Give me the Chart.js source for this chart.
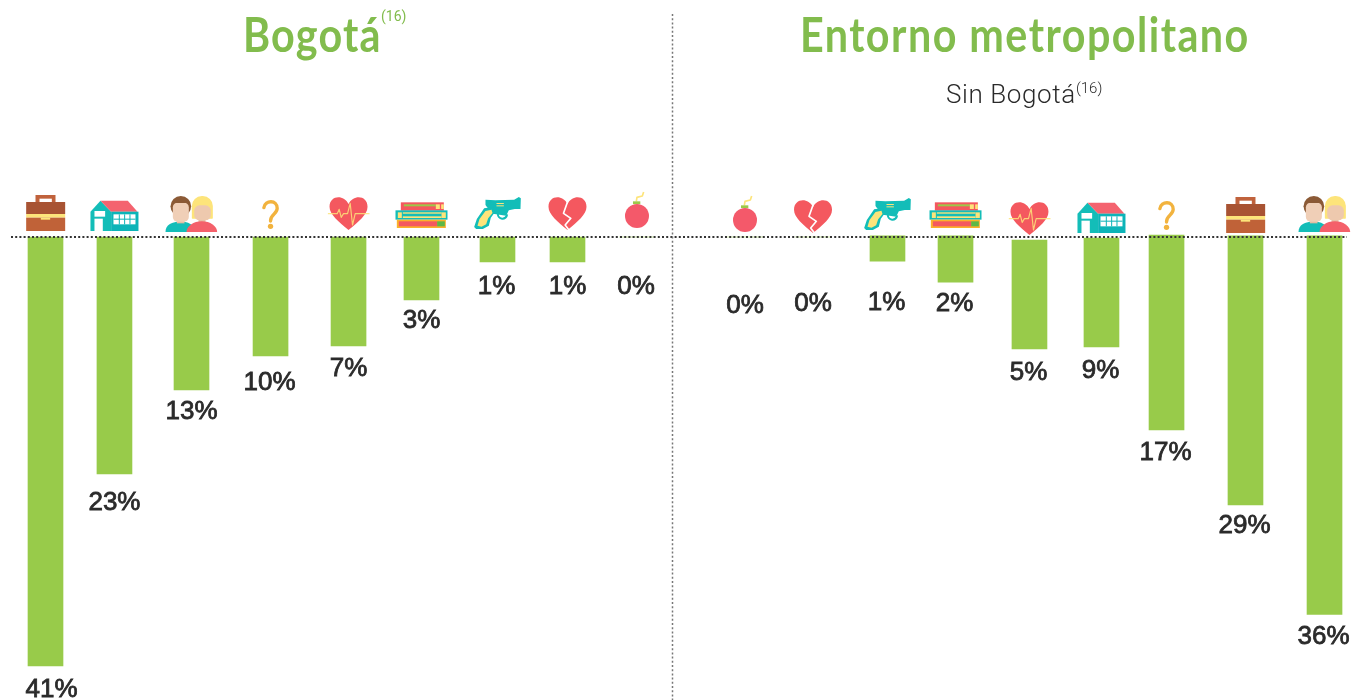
<!DOCTYPE html>
<html lang="es">
<head>
<meta charset="utf-8">
<title>Bogotá y entorno metropolitano</title>
<script src="https://cdn.jsdelivr.net/npm/chart.js@4"></script>
<style>
  html, body { margin: 0; padding: 0; background: #fff; }
  #page { position: relative; width: 1362px; height: 700px; overflow: hidden; }
  #page canvas { position: absolute; left: 0; top: 0; }
  .title { position: absolute; top: 10px; white-space: nowrap; color: #82bc4d; font-family: Lato, sans-serif; font-weight: 700; font-size: 48px; line-height: 1; transform-origin: left top; }
  #titleLeft { left: 243px; letter-spacing: 1.4px; transform: scaleX(0.86); }
  #titleRight { left: 800px; letter-spacing: 1.7px; transform: scaleX(0.86); }
  .note { position: absolute; white-space: nowrap; font-family: Roboto, sans-serif; font-weight: 300; line-height: 1; }
  #noteLeft { left: 381px; top: 9px; font-size: 14px; font-weight: 400; color: #82bc4d; }
  #noteRight { left: 1076px; top: 81px; font-size: 15px; color: #2a2a2a; }
  #subtitle { left: 946px; top: 81px; font-size: 26px; letter-spacing: 0.6px; color: #2a2a2a; }
</style>
</head>
<body>
<div id="page">
  <canvas id="chart" width="1362" height="700"></canvas>
  <div class="title" id="titleLeft">Bogotá</div>
  <div class="note" id="noteLeft">(16)</div>
  <div class="title" id="titleRight">Entorno metropolitano</div>
  <div class="note" id="subtitle">Sin Bogotá</div>
  <div class="note" id="noteRight">(16)</div>
</div>
<script>
const bogotaCategories = ["briefcase", "building", "people", "question", "heart", "books", "gun", "brokenHeart", "bomb"];
const bogotaLabels = ["41%", "23%", "13%", "10%", "7%", "3%", "1%", "1%", "0%"];
// start and end of each bar as drawn in the picture, the art is not to scale
const bogotaStart = [0, 0, 0, 0, 0, 0, 0, 0, 0];
const bogotaEnd = [40.86, 22.57, 14.57, 11.33, 10.38, 6, 2.38, 2.38, 0];

const entornoCategories = ["bomb", "brokenHeart", "gun", "books", "heart", "building", "question", "briefcase", "people"];
const entornoLabels = ["0%", "0%", "1%", "2%", "5%", "9%", "17%", "29%", "36%"];
const entornoStart = [0, 0, -0.1, -0.1, 0.29, 0.1, -0.19, -0.1, -0.1];
const entornoEnd = [0, 0, 2.29, 4.29, 10.67, 10.48, 18.38, 25.52, 35.95];

// layout, the slots are not evenly spaced in the original
const leftSlots = [0, 0.932, 1.973, 3.041, 4.095, 5.081, 6.108, 7.054, 7.993];
const rightSlots = [0, 0.939, 1.967, 2.906, 3.927, 4.921, 5.819, 6.909, 8];
const leftGaps = [24, 29, 22, 27, 23, 21, 25, 25, 50];
const rightGaps = [69, 67, 42, 22, 24, 24, 23, 21, 22];
const leftNudge = [6, 0, 0, -1, 0, 0, -1, 0, -1];
const rightNudge = [0, 0, -1, -1, -1, -1, -1, -1, -1];
const leftIconBase = [231, 231, 232, 229, 230, 228, 229, 230, 228];
const rightIconBase = [232, 233, 230, 228, 235, 233, 230, 233, 232];

const RED = "#f4585f";
const TEAL = "#13bdb8";
const CREAM = "#fde47a";

function box(ctx, color, x, y, w, h) {
  ctx.fillStyle = color;
  ctx.fillRect(x, y, w, h);
}

function poly(ctx, color, points) {
  ctx.fillStyle = color;
  ctx.beginPath();
  points.forEach(([x, y], i) => (i ? ctx.lineTo(x, y) : ctx.moveTo(x, y)));
  ctx.closePath();
  ctx.fill();
}

function heartPath(ctx) {
  ctx.beginPath();
  ctx.moveTo(0, 0);
  ctx.bezierCurveTo(-30, -26, -57, -46, -57, -70);
  ctx.bezierCurveTo(-57, -105, -14, -108, 0, -78);
  ctx.bezierCurveTo(14, -108, 57, -105, 57, -70);
  ctx.bezierCurveTo(57, -46, 30, -26, 0, 0);
  ctx.closePath();
  ctx.fillStyle = RED;
  ctx.fill();
}

function line(ctx, color, width, points) {
  ctx.strokeStyle = color;
  ctx.lineWidth = width;
  ctx.lineJoin = "round";
  ctx.beginPath();
  points.forEach(([x, y], i) => (i ? ctx.lineTo(x, y) : ctx.moveTo(x, y)));
  ctx.stroke();
}

// icons are drawn in 1/3 px units around the bar centre and their bottom edge
const icons = {
  briefcase(ctx) {
    box(ctx, "#c0623c", -30, -108, 60, 24);
    box(ctx, "#fff", -18, -97, 37, 11);
    box(ctx, "#a85333", -58, -87, 117, 36);
    box(ctx, CREAM, -58, -51, 117, 11);
    box(ctx, "#c06238", -58, -40, 117, 40);
    box(ctx, CREAM, -14, -40, 28, 6);
  },
  building(ctx) {
    poly(ctx, TEAL, [[-72, -58], [-42, -91], [-10, -58], [-10, 0], [-72, 0]]);
    poly(ctx, "#f4636f", [[-42, -91], [40, -91], [69, -58], [-10, -58]]);
    box(ctx, "#0cb4b8", -10, -58, 82, 58);
    box(ctx, "#fff", -60, -60, 32, 17);
    box(ctx, "#fff", -60, -37, 25, 37);
    box(ctx, "#fff", -3, -50, 66, 30);
    box(ctx, "#0cb4b8", -3, -37, 66, 3);
    [13, 29, 45].forEach((x) => box(ctx, "#0cb4b8", x, -50, 3, 30));
  },
  people(ctx) {
    // man
    ctx.fillStyle = TEAL;
    ctx.beginPath();
    ctx.moveTo(-78, 0);
    ctx.bezierCurveTo(-78, -22, -60, -28, -44, -31);
    ctx.lineTo(-22, -31);
    ctx.bezierCurveTo(-6, -28, 10, -20, 10, 0);
    ctx.closePath();
    ctx.fill();
    box(ctx, "#e4bda2", -44, -40, 23, 14);
    ctx.fillStyle = "#8b5a36";
    ctx.beginPath();
    ctx.arc(-32, -77, 31, 0, Math.PI * 2);
    ctx.fill();
    ctx.fillStyle = "#f0cfb7";
    ctx.beginPath();
    ctx.roundRect(-56, -88, 48, 57, 14);
    ctx.fill();
    box(ctx, "#8b5a36", -56, -92, 48, 5);
    // woman
    ctx.fillStyle = CREAM;
    ctx.beginPath();
    ctx.roundRect(1, -108, 63, 68, [30, 30, 2, 2]);
    ctx.fill();
    box(ctx, "#e4bda2", 21, -40, 21, 12);
    ctx.fillStyle = "#eec9ae";
    ctx.beginPath();
    ctx.roundRect(8, -80, 50, 45, 16);
    ctx.fill();
    ctx.fillStyle = "#f4606a";
    ctx.beginPath();
    ctx.ellipse(31, 0, 46, 32, 0, Math.PI, 0);
    ctx.fill();
  },
  question(ctx) {
    ctx.strokeStyle = "#f2b33e";
    ctx.lineWidth = 10;
    ctx.lineCap = "round";
    ctx.beginPath();
    ctx.moveTo(-20, -64);
    ctx.bezierCurveTo(-16, -88, 20, -88, 20, -62);
    ctx.bezierCurveTo(20, -44, 0, -46, 0, -24);
    ctx.stroke();
    ctx.lineCap = "butt";
    ctx.fillStyle = "#f2b33e";
    ctx.beginPath();
    ctx.arc(0, -8, 8, 0, Math.PI * 2);
    ctx.fill();
  },
  heart(ctx) {
    heartPath(ctx);
    ctx.globalAlpha = 0.85;
    line(ctx, CREAM, 3.5, [[-62, -49], [-34, -49], [-28, -62], [-22, -38], [-15, -49], [-3, -49], [5, -80], [12, -15], [20, -49], [63, -49]]);
    ctx.globalAlpha = 1;
  },
  books(ctx) {
    box(ctx, RED, -62, -77, 129, 25);
    box(ctx, "#9bc94a", -53, -71, 96, 6);
    box(ctx, CREAM, 43, -71, 12, 14);
    box(ctx, CREAM, 59, -71, 8, 14);
    box(ctx, TEAL, -78, -53, 156, 28);
    box(ctx, CREAM, -71, -47, 12, 17);
    box(ctx, CREAM, 60, -47, 13, 17);
    box(ctx, CREAM, -56, -47, 116, 4);
    box(ctx, CREAM, -56, -35, 116, 5);
    box(ctx, "#fbb12b", -74, -25, 147, 25);
    box(ctx, RED, -68, -20, 115, 15);
    box(ctx, "#5cb848", 47, -20, 23, 15);
  },
  gun(ctx) {
    poly(ctx, TEAL, [[-36, -88], [-6, -86], [50, -88], [64, -96], [70, -92], [69, -60], [52, -60], [34, -56], [26, -40], [-14, -46], [-14, -60], [-30, -64], [-36, -72]]);
    ctx.strokeStyle = TEAL;
    ctx.lineWidth = 6;
    ctx.beginPath();
    ctx.arc(15, -45, 14, 0.1, Math.PI);
    ctx.stroke();
    poly(ctx, TEAL, [[-70, -6], [-62, -30], [-40, -62], [-14, -66], [-8, -50], [-20, -34], [-26, -10], [-44, 0], [-64, 0]]);
    poly(ctx, CREAM, [[-60, -10], [-54, -30], [-36, -54], [-18, -58], [-15, -48], [-28, -32], [-34, -14], [-48, -7]]);
    box(ctx, CREAM, -3, -78, 22, 3);
    box(ctx, CREAM, -3, -71, 22, 3);
  },
  brokenHeart(ctx) {
    heartPath(ctx);
    line(ctx, "#fff", 5, [[0, -84], [-12, -50], [10, -35], [-7, -15], [6, 2]]);
  },
  bomb(ctx) {
    line(ctx, CREAM, 5, [[-2, -80], [0, -92], [16, -96], [20, -108]]);
    box(ctx, "#9bc94a", -12, -80, 22, 8);
    ctx.fillStyle = "#f4596a";
    ctx.beginPath();
    ctx.arc(0, -36, 36, 0, Math.PI * 2);
    ctx.fill();
  },
};

const barDecor = {
  id: "barDecor",
  afterDatasetsDraw(chart) {
    const { ctx, scales } = chart;
    const zero = scales.y.getPixelForValue(0);

    ctx.save();
    ctx.strokeStyle = "#333";
    ctx.lineWidth = 2;
    ctx.setLineDash([2, 2.2]);
    ctx.beginPath();
    ctx.moveTo(11, zero);
    ctx.lineTo(1347, zero);
    ctx.stroke();
    ctx.strokeStyle = "#777";
    ctx.lineWidth = 1.5;
    ctx.beginPath();
    ctx.moveTo(672.5, 14);
    ctx.lineTo(672.5, 700);
    ctx.stroke();
    ctx.restore();

    const panels = [
      { categories: bogotaCategories, labels: bogotaLabels, gaps: leftGaps, nudge: leftNudge, iconBase: leftIconBase },
      { categories: entornoCategories, labels: entornoLabels, gaps: rightGaps, nudge: rightNudge, iconBase: rightIconBase },
    ];
    panels.forEach((panel, datasetIndex) => {
      chart.getDatasetMeta(datasetIndex).data.forEach((bar, i) => {
        ctx.save();
        ctx.translate(bar.x, panel.iconBase[i]);
        ctx.scale(1 / 3, 1 / 3);
        icons[panel.categories[i]](ctx);
        ctx.restore();

        const labelX = bar.x + panel.nudge[i];
        const labelY = bar.y + panel.gaps[i];
        ctx.save();
        ctx.fillStyle = "#2b2b2b";
        ctx.strokeStyle = "#2b2b2b";
        ctx.lineWidth = 0.8;
        ctx.font = "26px 'Liberation Sans', sans-serif";
        ctx.textAlign = "center";
        ctx.textBaseline = "middle";
        ctx.fillText(panel.labels[i], labelX, labelY);
        ctx.strokeText(panel.labels[i], labelX, labelY);
        ctx.restore();
      });
    });
  },
};

function toPoints(slots, start, end) {
  return slots.map((slot, i) => ({ x: slot, y: [start[i], end[i]] }));
}

new Chart(document.getElementById("chart"), {
  type: "bar",
  data: {
    datasets: [
      { label: "Bogotá", xAxisID: "xLeft", data: toPoints(leftSlots, bogotaStart, bogotaEnd) },
      { label: "Entorno metropolitano", xAxisID: "xRight", data: toPoints(rightSlots, entornoStart, entornoEnd) },
    ],
  },
  options: {
    responsive: false,
    animation: false,
    grouped: false,
    barThickness: 35,
    backgroundColor: "#98cb4a",
    borderWidth: 0,
    layout: { padding: 0 },
    scales: {
      xLeft: { type: "linear", axis: "x", display: false, offset: false, min: -45.5 / 74, max: (1362 - 45.5) / 74 },
      xRight: { type: "linear", axis: "x", display: false, offset: false, min: -745 / 72.44, max: (1362 - 745) / 72.44 },
      y: { display: false, reverse: true, min: -237 / 10.5, max: 463 / 10.5 },
    },
    plugins: {
      legend: { display: false },
      tooltip: { enabled: false },
    },
  },
  plugins: [barDecor],
});
</script>
</body>
</html>
